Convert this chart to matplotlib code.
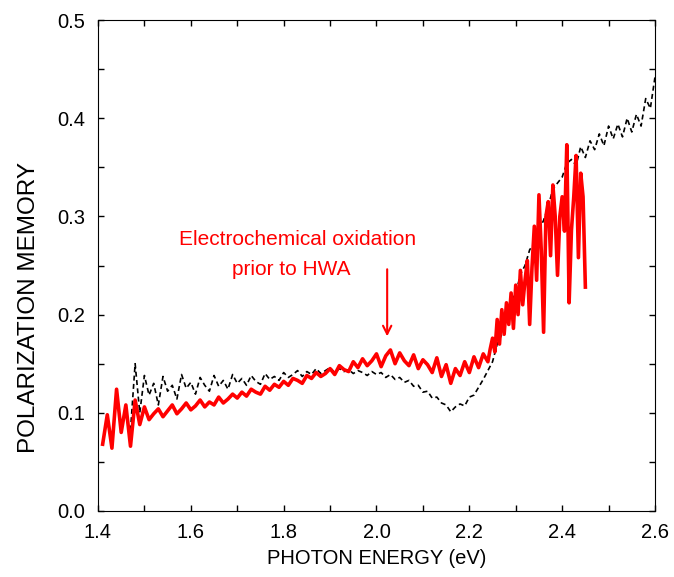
import matplotlib.pyplot as plt
from matplotlib.ticker import MultipleLocator

plt.rcParams['font.family'] = ['Liberation Sans', 'DejaVu Sans']

# red trace: electrochemical oxidation prior to HWA
red_x = [1.41, 1.42, 1.43, 1.44, 1.45, 1.46, 1.47, 1.48, 1.49, 1.50,
         1.51, 1.52, 1.53, 1.54, 1.55, 1.56, 1.57, 1.58, 1.59, 1.60,
         1.61, 1.62, 1.63, 1.64, 1.65, 1.66, 1.67, 1.68, 1.69, 1.70,
         1.71, 1.72, 1.73, 1.74, 1.75, 1.76, 1.77, 1.78, 1.79, 1.80,
         1.81, 1.82, 1.83, 1.84, 1.85, 1.86, 1.87, 1.88, 1.89, 1.90,
         1.91, 1.92, 1.93, 1.94, 1.95, 1.96, 1.97, 1.98, 1.99, 2.00,
         2.01, 2.02, 2.03, 2.04, 2.05, 2.06, 2.07, 2.08, 2.09, 2.10,
         2.11, 2.12, 2.13, 2.14, 2.15, 2.16, 2.17, 2.18, 2.19, 2.20,
         2.21, 2.22, 2.23, 2.24,
         2.245, 2.250, 2.255, 2.260, 2.265, 2.270, 2.275, 2.280, 2.285, 2.290,
         2.295, 2.300, 2.305, 2.310, 2.315, 2.320, 2.325, 2.330, 2.335, 2.340,
         2.345, 2.350, 2.355, 2.360, 2.365, 2.370, 2.375, 2.380, 2.385, 2.390,
         2.395, 2.400, 2.405, 2.410, 2.415, 2.420, 2.425, 2.430, 2.435, 2.440,
         2.445, 2.450]
red_y = [0.068, 0.098, 0.064, 0.124, 0.080, 0.108, 0.066, 0.113, 0.088, 0.106,
         0.093, 0.099, 0.104, 0.096, 0.102, 0.108, 0.099, 0.104, 0.110, 0.103,
         0.107, 0.113, 0.106, 0.111, 0.108, 0.116, 0.110, 0.114, 0.119, 0.115,
         0.121, 0.117, 0.124, 0.121, 0.119, 0.127, 0.123, 0.129, 0.126, 0.132,
         0.128, 0.135, 0.133, 0.130, 0.138, 0.135, 0.141, 0.137, 0.140, 0.145,
         0.139, 0.148, 0.144, 0.142, 0.152, 0.146, 0.155, 0.148, 0.153, 0.160,
         0.147, 0.158, 0.164, 0.150, 0.161, 0.153, 0.148, 0.159, 0.145, 0.154,
         0.149, 0.141, 0.156, 0.137, 0.149, 0.130, 0.145, 0.138, 0.152, 0.141,
         0.157, 0.146, 0.160, 0.152,
         0.165, 0.176, 0.162, 0.195, 0.170, 0.205, 0.180, 0.212, 0.190, 0.222,
         0.186, 0.230, 0.200, 0.245, 0.210, 0.235, 0.255, 0.190, 0.248, 0.290,
         0.235, 0.322, 0.265, 0.182, 0.300, 0.315, 0.260, 0.332, 0.300, 0.240,
         0.300, 0.320, 0.285, 0.373, 0.212, 0.286, 0.320, 0.362, 0.258, 0.344,
         0.320, 0.228]

# black dashed trace
black_x = [1.47, 1.48, 1.49, 1.50, 1.51, 1.52, 1.53, 1.54, 1.55, 1.56,
           1.57, 1.58, 1.59, 1.60, 1.61, 1.62, 1.63, 1.64, 1.65, 1.66,
           1.67, 1.68, 1.69, 1.70, 1.71, 1.72, 1.73, 1.74, 1.75, 1.76,
           1.77, 1.78, 1.79, 1.80, 1.81, 1.82, 1.83, 1.84, 1.85, 1.86,
           1.87, 1.88, 1.89, 1.90, 1.91, 1.92, 1.93, 1.94, 1.95, 1.96,
           1.97, 1.98, 1.99, 2.00, 2.01, 2.02, 2.03, 2.04, 2.05, 2.06,
           2.07, 2.08, 2.09, 2.10, 2.11, 2.12, 2.13, 2.14, 2.15, 2.16,
           2.17, 2.18, 2.19, 2.20, 2.21, 2.22, 2.23, 2.24, 2.25, 2.26,
           2.27, 2.28, 2.29, 2.30, 2.31, 2.32, 2.33, 2.34, 2.35, 2.36,
           2.37, 2.38, 2.39, 2.40, 2.41, 2.42, 2.43, 2.44, 2.45, 2.46,
           2.47, 2.48, 2.49, 2.50, 2.51, 2.52, 2.53, 2.54, 2.55, 2.56,
           2.57, 2.58, 2.59, 2.60]
black_y = [0.082, 0.150, 0.100, 0.138, 0.118, 0.130, 0.108, 0.137, 0.122, 0.128,
           0.114, 0.139, 0.125, 0.131, 0.119, 0.136, 0.128, 0.122, 0.138, 0.127,
           0.133, 0.124, 0.139, 0.130, 0.135, 0.128, 0.138, 0.132, 0.129, 0.140,
           0.134, 0.137, 0.133, 0.141, 0.136, 0.139, 0.143, 0.137, 0.142, 0.139,
           0.145, 0.140, 0.143, 0.146, 0.141, 0.145, 0.142, 0.144, 0.140, 0.143,
           0.141, 0.138, 0.142, 0.139, 0.141, 0.136, 0.139, 0.134, 0.136, 0.131,
           0.133, 0.127, 0.128, 0.121, 0.122, 0.115, 0.116, 0.110, 0.108, 0.101,
           0.106, 0.109, 0.107, 0.116, 0.118, 0.126, 0.134, 0.143, 0.152, 0.170,
           0.180, 0.199, 0.214, 0.221, 0.241, 0.250, 0.266, 0.273, 0.286, 0.296,
           0.310, 0.328, 0.334, 0.340, 0.354, 0.358, 0.352, 0.371, 0.360, 0.377,
           0.368, 0.384, 0.372, 0.392, 0.379, 0.394, 0.381, 0.400, 0.386, 0.404,
           0.392, 0.420, 0.410, 0.442]

fig = plt.figure(figsize=(6.74, 5.77), dpi=100)
ax = fig.add_axes([0.1454, 0.1144, 0.8264, 0.8509])

ax.plot(black_x, black_y, color='black', lw=1.2, dashes=(3, 2))
ax.plot(red_x, red_y, color='#ff0000', lw=2.6)

ax.set_xlim(1.4, 2.6)
ax.set_ylim(0.0, 0.5)
ax.xaxis.set_major_locator(MultipleLocator(0.2))
ax.xaxis.set_minor_locator(MultipleLocator(0.1))
ax.yaxis.set_major_locator(MultipleLocator(0.1))
ax.yaxis.set_minor_locator(MultipleLocator(0.05))
ax.xaxis.set_major_formatter(plt.FormatStrFormatter('%.1f'))
ax.yaxis.set_major_formatter(plt.FormatStrFormatter('%.1f'))
ax.tick_params(which='both', direction='in', top=True, right=True,
               labelsize=14.5, pad=9, width=1, length=4)

ax.set_xlabel('PHOTON ENERGY (eV)', fontsize=14.5, labelpad=5)
ax.set_ylabel('POLARIZATION MEMORY', fontsize=17.5)
ax.yaxis.set_label_coords(-0.105, 0.415)

ax.text(1.831, 0.276, 'Electrochemical oxidation', color='#ff0000',
        fontsize=15, ha='center', va='center')
ax.text(1.816, 0.246, 'prior to HWA', color='#ff0000',
        fontsize=15, ha='center', va='center')
ax.annotate('', xy=(2.023, 0.175), xytext=(2.023, 0.249),
            arrowprops=dict(arrowstyle='->,head_length=0.6,head_width=0.3',
                            color='#ff0000', lw=1.5))

fig.savefig('out.png', dpi=100)
